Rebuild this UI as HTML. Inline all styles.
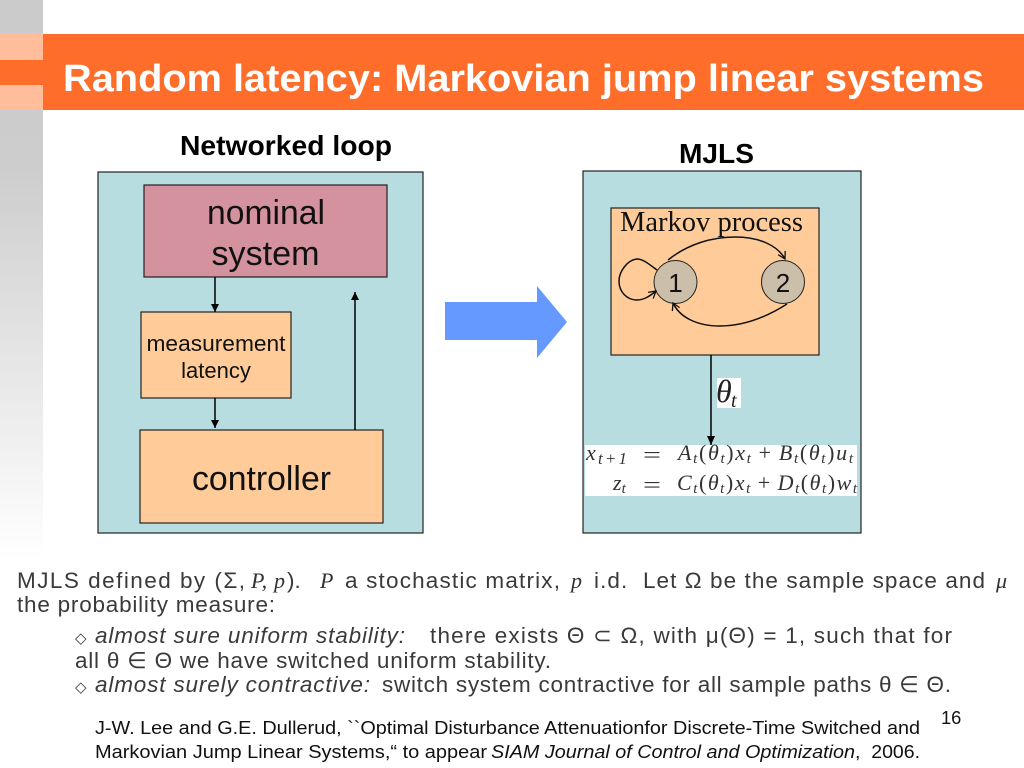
<!DOCTYPE html>
<html><head><meta charset="utf-8"><style>
html,body{margin:0;padding:0;background:#fff}
svg{display:block}
text{font-family:"Liberation Sans",sans-serif}
.s{font-family:"Liberation Serif",serif}
.b{font-family:"Liberation Sans",sans-serif;font-size:22.500px;fill:#3a3a3a}
.m{font-family:"Liberation Serif",serif;font-size:22px;fill:#333;font-style:italic}
.r{font-family:"Liberation Sans",sans-serif;font-size:18.300px;fill:#111}
.q{font-family:"Liberation Serif",serif;font-size:22px;fill:#333}
</style></head><body>
<svg width="1024" height="768" viewBox="0 0 1024 768" xmlns="http://www.w3.org/2000/svg">
<defs>
<linearGradient id="g" x1="0" y1="0" x2="0" y2="1"><stop offset="0" stop-color="#cbcbcb"/><stop offset="0.3" stop-color="#cdcdcd"/><stop offset="1" stop-color="#ffffff"/></linearGradient>
<marker id="a" markerWidth="10" markerHeight="10" refX="8" refY="4.500" orient="auto" markerUnits="userSpaceOnUse"><path d="M0,0.500L8,4.500L0,8.500Z" fill="#000"/></marker>
<marker id="o" markerWidth="10" markerHeight="10" refX="8" refY="5" orient="auto" markerUnits="userSpaceOnUse"><path d="M1,1L8,5L1,9" fill="none" stroke="#111" stroke-width="1.300"/></marker>
</defs>
<rect x="0" y="0" width="43" height="560" fill="url(#g)"/>
<rect x="43" y="34" width="981" height="76" fill="#ff6d2b"/>
<rect x="0" y="34" width="43" height="26" fill="#ffbd9c"/>
<rect x="0" y="60" width="43" height="25" fill="#ff6d2b"/>
<rect x="0" y="85" width="43" height="25" fill="#ffbd9c"/>
<text x="63" y="91" font-size="38" font-weight="bold" fill="#fff" textLength="921" lengthAdjust="spacingAndGlyphs">Random latency: Markovian jump linear systems</text>

<text x="180" y="155" font-size="28" font-weight="bold" textLength="212" lengthAdjust="spacingAndGlyphs">Networked loop</text>
<text x="679" y="163" font-size="28" font-weight="bold" textLength="75" lengthAdjust="spacingAndGlyphs">MJLS</text>

<rect x="98" y="172" width="325" height="361" fill="#b7dde1" stroke="#222" stroke-width="1.200"/>
<rect x="144" y="185" width="243" height="92" fill="#d4929f" stroke="#222" stroke-width="1.200"/>
<text x="266" y="224" font-size="34" text-anchor="middle" fill="#111" textLength="118" lengthAdjust="spacingAndGlyphs">nominal</text>
<text x="265.500" y="265" font-size="34" text-anchor="middle" fill="#111" textLength="108" lengthAdjust="spacingAndGlyphs">system</text>
<rect x="141" y="312" width="150" height="86" fill="#ffcc99" stroke="#222" stroke-width="1.200"/>
<text x="216" y="351" font-size="22" text-anchor="middle" fill="#111" textLength="139" lengthAdjust="spacingAndGlyphs">measurement</text>
<text x="216" y="378" font-size="22" text-anchor="middle" fill="#111">latency</text>
<rect x="140" y="430" width="243" height="93" fill="#ffcc99" stroke="#222" stroke-width="1.200"/>
<text x="261.500" y="490" font-size="34" text-anchor="middle" fill="#111" textLength="139" lengthAdjust="spacingAndGlyphs">controller</text>
<line x1="215" y1="277" x2="215" y2="312" stroke="#000" stroke-width="1.500" marker-end="url(#a)"/>
<line x1="215" y1="398" x2="215" y2="428" stroke="#000" stroke-width="1.500" marker-end="url(#a)"/>
<line x1="355" y1="430" x2="355" y2="292" stroke="#000" stroke-width="1.500" marker-end="url(#a)"/>

<path d="M445,302H537V286L567,322L537,358V340H445Z" fill="#6699ff"/>

<rect x="583" y="171" width="278" height="362" fill="#b7dde1" stroke="#222" stroke-width="1.200"/>
<rect x="611" y="208" width="208" height="147" fill="#ffcc99" stroke="#222" stroke-width="1.200"/>
<text class="s" x="620" y="231" font-size="28" fill="#111" textLength="183" lengthAdjust="spacingAndGlyphs">Markov process</text>
<circle cx="675.500" cy="282" r="21.500" fill="#ccbfa9" stroke="#222" stroke-width="1"/>
<circle cx="783" cy="282" r="21.500" fill="#ccbfa9" stroke="#222" stroke-width="1"/>
<text x="675.500" y="292" font-size="26" text-anchor="middle" fill="#111">1</text>
<text x="783" y="292" font-size="26" text-anchor="middle" fill="#111">2</text>
<path d="M668,260C688,244 712,237 735,237C760,237 778,246 785,259" fill="none" stroke="#111" stroke-width="1.500" marker-end="url(#o)"/>
<path d="M787,304C765,318 742,326 720,326C698,326 680,318 673,303" fill="none" stroke="#111" stroke-width="1.500" marker-end="url(#o)"/>
<path d="M657,270C649,264 643,259 637,259C627,260 619,272 619,281C619,292 627,300 637,300C644,300 650,296 656,291" fill="none" stroke="#111" stroke-width="1.500" marker-end="url(#o)"/>
<rect x="717" y="378" width="24" height="30" fill="#fff"/>
<text class="s" x="716" y="402" font-size="32" font-style="italic" fill="#222">θ</text>
<text class="s" x="731" y="407" font-size="20" font-style="italic" fill="#222">t</text>
<rect x="585" y="445" width="272" height="51" fill="#fff"/>
<line x1="711" y1="355" x2="711" y2="445" stroke="#000" stroke-width="1.500"/>
<path d="M707,436L715,436L711,445Z" fill="#000"/>
<text class="q" x="586" y="460" textLength="41" lengthAdjust="spacing"><tspan font-style="italic">x</tspan><tspan font-style="italic" font-size="17" dy="4">t+1</tspan></text>
<text class="q" x="643" y="462" font-size="28" textLength="18" lengthAdjust="spacingAndGlyphs">=</text>
<text class="q" x="678" y="460" textLength="175" lengthAdjust="spacing" font-style="italic">A<tspan font-size="15" dy="3">t</tspan><tspan dy="-3" font-style="normal">(</tspan>θ<tspan font-size="15" dy="3">t</tspan><tspan dy="-3" font-style="normal">)</tspan>x<tspan font-size="15" dy="3">t</tspan><tspan dy="-3" font-style="normal">&#8201;+&#8201;</tspan>B<tspan font-size="15" dy="3">t</tspan><tspan dy="-3" font-style="normal">(</tspan>θ<tspan font-size="15" dy="3">t</tspan><tspan dy="-3" font-style="normal">)</tspan>u<tspan font-size="15" dy="3">t</tspan></text>
<text class="q" x="613" y="490"><tspan font-style="italic">z</tspan><tspan font-style="italic" font-size="15" dy="3">t</tspan></text>
<text class="q" x="643" y="492" font-size="28" textLength="18" lengthAdjust="spacingAndGlyphs">=</text>
<text class="q" x="677" y="490" textLength="180" lengthAdjust="spacing" font-style="italic">C<tspan font-size="15" dy="3">t</tspan><tspan dy="-3" font-style="normal">(</tspan>θ<tspan font-size="15" dy="3">t</tspan><tspan dy="-3" font-style="normal">)</tspan>x<tspan font-size="15" dy="3">t</tspan><tspan dy="-3" font-style="normal">&#8201;+&#8201;</tspan>D<tspan font-size="15" dy="3">t</tspan><tspan dy="-3" font-style="normal">(</tspan>θ<tspan font-size="15" dy="3">t</tspan><tspan dy="-3" font-style="normal">)</tspan>w<tspan font-size="15" dy="3">t</tspan></text>

<text class="b" x="17" y="588" textLength="228" lengthAdjust="spacing">MJLS defined by (Σ,</text>
<text class="m" x="251" y="588">P,</text>
<text class="m" x="274" y="588">p</text>
<text class="b" x="287" y="588">).</text>
<text class="m" x="320" y="588">P</text>
<text class="b" x="345" y="588" textLength="215" lengthAdjust="spacing">a stochastic matrix,</text>
<text class="m" x="571" y="588">p</text>
<text class="b" x="594" y="588" textLength="391" lengthAdjust="spacing">i.d.&#160; Let Ω be the sample space and</text>
<text class="m" x="996" y="588">μ</text>
<text class="b" x="17" y="612" textLength="258" lengthAdjust="spacing">the probability measure:</text>

<text class="b" x="75" y="643" style="font-size:15px">◇</text>
<text class="b" x="95" y="643" font-style="italic" textLength="310" lengthAdjust="spacing">almost sure uniform stability:</text>
<text class="b" x="430" y="643" textLength="522" lengthAdjust="spacing">there exists Θ ⊂ Ω, with μ(Θ) = 1, such that for</text>
<text class="b" x="75" y="668" textLength="476" lengthAdjust="spacing">all θ ∈ Θ we have switched uniform stability.</text>
<text class="b" x="75" y="692" style="font-size:15px">◇</text>
<text class="b" x="95" y="692" font-style="italic" textLength="275" lengthAdjust="spacing">almost surely contractive:</text>
<text class="b" x="382" y="692" textLength="569" lengthAdjust="spacing">switch system contractive for all sample paths θ ∈ Θ.</text>

<text class="r" x="95" y="734" textLength="825" lengthAdjust="spacingAndGlyphs">J-W. Lee and G.E. Dullerud, ``Optimal Disturbance Attenuationfor Discrete-Time Switched and</text>
<text class="r" x="95" y="758" textLength="392" lengthAdjust="spacingAndGlyphs">Markovian Jump Linear Systems,“ to appear</text>
<text class="r" x="491" y="758" font-style="italic" textLength="364" lengthAdjust="spacingAndGlyphs">SIAM Journal of Control and Optimization</text>
<text class="r" x="855" y="758" textLength="65" lengthAdjust="spacingAndGlyphs">,&#160; 2006.</text>
<text class="r" x="941" y="724">16</text>
</svg>
</body></html>
